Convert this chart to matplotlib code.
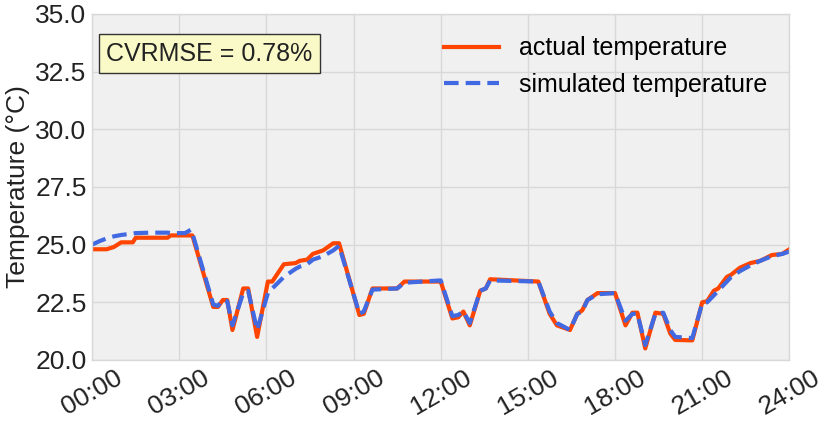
import matplotlib
matplotlib.use("Agg")
import matplotlib.pyplot as plt

# breakpoints (hours) with actual and simulated zone temperature
hours = [0.0, 0.25, 0.5, 0.75, 1.0, 1.4, 1.5, 2.0, 2.6, 2.7, 3.2, 3.4, 3.45,
         4.17, 4.33, 4.5, 4.65, 4.83, 5.2, 5.37, 5.68, 6.05, 6.2, 6.6, 7.0,
         7.15, 7.4, 7.6, 7.95, 8.3, 8.5, 9.2, 9.35, 9.65, 10.5, 10.75, 12.0,
         12.4, 12.6, 12.78, 13.0, 13.36, 13.55, 13.7, 15.36, 15.75, 16.0,
         16.45, 16.7, 16.87, 17.05, 17.4, 18.0, 18.36, 18.6, 18.77, 19.04,
         19.39, 19.66, 19.9, 20.07, 20.66, 21.0, 21.17, 21.4, 21.55, 21.85,
         22.0, 22.3, 22.66, 23.0, 23.4, 23.76, 24.0]
actual = [24.8, 24.8, 24.8, 24.9, 25.1, 25.1, 25.3, 25.3, 25.3, 25.4, 25.4, 25.4, 25.4,
          22.3, 22.3, 22.6, 22.6, 21.3, 23.1, 23.1, 21.0, 23.4, 23.4, 24.15, 24.2,
          24.3, 24.35, 24.6, 24.75, 25.06, 25.06, 21.95, 22.0, 23.1, 23.1, 23.4, 23.4,
          21.8, 21.85, 22.1, 21.5, 23.0, 23.1, 23.5, 23.4, 22.0, 21.5,
          21.3, 22.0, 22.15, 22.6, 22.9, 22.9, 21.5, 22.05, 22.05, 20.5,
          22.05, 22.0, 21.15, 20.87, 20.85, 22.5, 22.55, 23.0, 23.1, 23.6,
          23.7, 24.0, 24.2, 24.3, 24.55, 24.6, 24.8]
simulated = [25.0, 25.15, 25.27, 25.36, 25.42, 25.48, 25.5, 25.52, 25.52, 25.5, 25.5, 25.65, 25.5,
             22.4, 22.35, 22.6, 22.55, 21.5, 22.9, 23.0, 21.3, 22.9, 23.1, 23.6, 23.95,
             24.05, 24.15, 24.35, 24.5, 24.75, 24.95, 22.0, 22.1, 23.05, 23.1, 23.35, 23.45,
             21.9, 21.95, 22.1, 21.6, 23.0, 23.1, 23.45, 23.4, 22.1, 21.6,
             21.3, 22.0, 22.1, 22.6, 22.85, 22.9, 21.7, 22.0, 22.0, 20.65,
             22.0, 22.05, 21.3, 21.0, 20.95, 22.45, 22.5, 22.8, 23.0, 23.4,
             23.6, 23.85, 24.1, 24.3, 24.5, 24.6, 24.7]

tick_hours = [0, 3, 6, 9, 12, 15, 18, 21, 24]
tick_labels = ["00:00", "03:00", "06:00", "09:00", "12:00", "15:00", "18:00", "21:00", "24:00"]
cvrmse = 0.78

plt.rcParams["font.family"] = ["Liberation Sans", "DejaVu Sans"]

fig = plt.figure(figsize=(8.3, 4.24), dpi=100)
ax = fig.add_axes([0.111, 0.151, 0.84, 0.816])
ax.set_facecolor("#f0f0f0")

ax.plot(hours, actual, color="orangered", lw=3, label="actual temperature")
ax.plot(hours, simulated, color="royalblue", lw=3, ls=(0, (3.5, 1.7)),
        label="simulated temperature")

ax.set_xlim(0, 24)
ax.set_ylim(20, 35)
ax.set_xticks(tick_hours)
ax.set_xticklabels(tick_labels, rotation=30, ha="center")
ax.set_yticks([20, 22.5, 25, 27.5, 30, 32.5, 35])
ax.set_yticklabels(["20.0", "22.5", "25.0", "27.5", "30.0", "32.5", "35.0"])
ax.tick_params(labelsize=19, length=0, colors="#222222", pad=4)
ax.set_ylabel("Temperature (°C)", fontsize=19, color="#222222")
ax.grid(True, color="#d8d8d8", lw=1)
for s in ax.spines.values():
    s.set_color("#d8d8d8")
    s.set_linewidth(1)

ax.text(0.02, 0.92, f"CVRMSE = {cvrmse}%", transform=ax.transAxes, fontsize=18,
        va="top", ha="left", color="#222222",
        bbox=dict(boxstyle="square,pad=0.3", facecolor="#fafac8", edgecolor="#333333"))

leg = ax.legend(loc="upper right", fontsize=18, frameon=False, handlelength=2.2)

fig.savefig("out.png", dpi=100)
